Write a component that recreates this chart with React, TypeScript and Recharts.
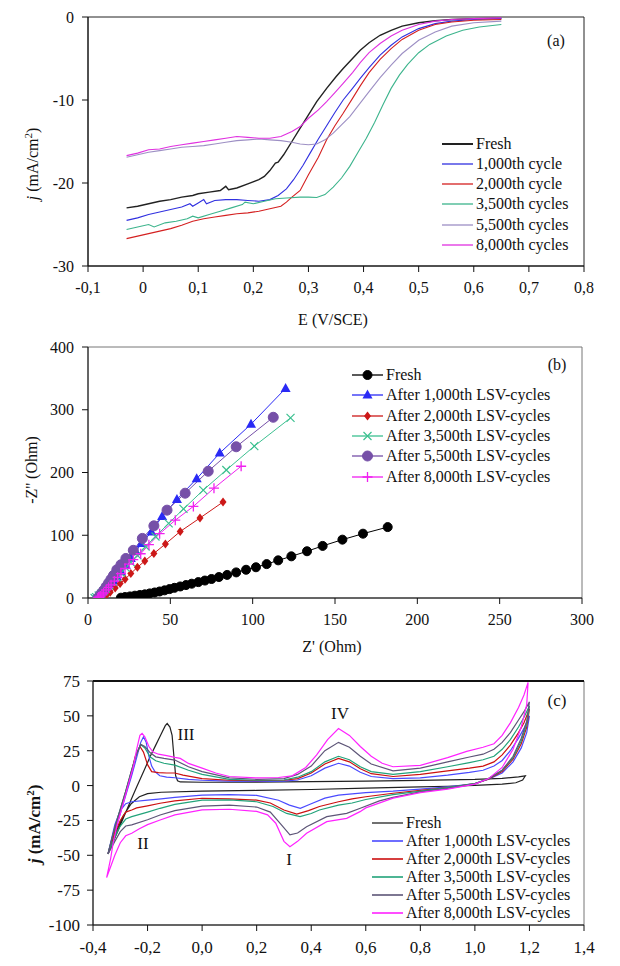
import { LineChart, Line, XAxis, YAxis, ReferenceArea } from "recharts";

const SERIF = '"Liberation Serif", "Times New Roman", Times, "DejaVu Serif", serif';

type Pt = [number, number];

// ---- (a) LSV curves, E (V/SCE) vs j (mA/cm2) ----
const lsvFresh: Pt[] = [
  [-0.03, -23.0], [-0.01, -22.8], [0.01, -22.5], [0.03, -22.2], [0.05, -22.0], [0.07, -21.7],
  [0.09, -21.5], [0.1, -21.3], [0.12, -21.1], [0.14, -20.9], [0.15, -20.4], [0.155, -20.8],
  [0.17, -20.6], [0.19, -20.1], [0.21, -19.6], [0.22, -19.2], [0.23, -18.5], [0.24, -17.6],
  [0.245, -17.5], [0.255, -16.6], [0.27, -15.0], [0.285, -13.4], [0.3, -11.8], [0.315, -10.2],
  [0.333, -8.6], [0.35, -7.2], [0.363, -6.2], [0.38, -5.0], [0.394, -4.0], [0.41, -3.1],
  [0.43, -2.2], [0.45, -1.6], [0.47, -1.1], [0.5, -0.7], [0.53, -0.45], [0.56, -0.3],
  [0.6, -0.2], [0.65, -0.15],
];
const lsv1000: Pt[] = [
  [-0.03, -24.5], [-0.01, -24.2], [0.01, -23.8], [0.03, -23.5], [0.05, -23.2], [0.07, -22.9],
  [0.085, -22.5], [0.09, -22.8], [0.1, -22.4], [0.11, -22.0], [0.115, -22.5], [0.13, -22.1],
  [0.15, -22.0], [0.17, -22.0], [0.19, -22.1], [0.21, -22.2], [0.23, -22.0], [0.245, -21.5],
  [0.26, -20.7], [0.273, -19.6], [0.29, -17.9], [0.303, -16.4], [0.318, -14.7], [0.333, -13.1],
  [0.348, -11.5], [0.363, -10.0], [0.38, -8.6], [0.394, -7.4], [0.41, -6.1], [0.43, -4.6],
  [0.45, -3.4], [0.47, -2.4], [0.5, -1.4], [0.53, -0.8], [0.56, -0.5], [0.6, -0.3], [0.65, -0.2],
];
const lsv2000: Pt[] = [
  [-0.03, -26.7], [-0.01, -26.4], [0.01, -26.1], [0.03, -25.8], [0.05, -25.5], [0.07, -25.1],
  [0.09, -24.6], [0.11, -24.3], [0.13, -24.1], [0.15, -23.9], [0.17, -23.7], [0.19, -23.6],
  [0.21, -23.4], [0.23, -23.1], [0.25, -22.8], [0.26, -22.3], [0.27, -21.7], [0.285, -20.9],
  [0.3, -19.0], [0.318, -16.9], [0.333, -14.8], [0.348, -13.1], [0.363, -11.6], [0.38, -9.8],
  [0.394, -8.3], [0.41, -6.7], [0.43, -5.1], [0.45, -3.8], [0.47, -2.7], [0.5, -1.6],
  [0.53, -0.9], [0.56, -0.6], [0.6, -0.4], [0.65, -0.3],
];
const lsv3500: Pt[] = [
  [-0.03, -25.6], [-0.01, -25.3], [0.01, -25.0], [0.02, -25.3], [0.04, -24.8], [0.06, -24.6],
  [0.08, -24.3], [0.09, -24.0], [0.1, -24.2], [0.12, -23.8], [0.14, -23.4], [0.16, -23.0],
  [0.18, -22.6], [0.185, -22.3], [0.2, -22.5], [0.22, -22.2], [0.24, -21.9], [0.26, -21.8],
  [0.285, -21.7], [0.3, -21.7], [0.315, -21.75], [0.33, -21.4], [0.345, -20.5], [0.36, -19.4],
  [0.375, -18.0], [0.39, -16.3], [0.405, -14.6], [0.42, -12.7], [0.435, -10.6], [0.45, -8.6],
  [0.465, -7.0], [0.48, -5.7], [0.5, -4.3], [0.52, -3.3], [0.55, -2.3], [0.58, -1.6],
  [0.61, -1.2], [0.65, -0.9],
];
const lsv5500: Pt[] = [
  [-0.03, -16.9], [-0.01, -16.6], [0.01, -16.3], [0.03, -16.1], [0.05, -15.9], [0.07, -15.7],
  [0.09, -15.6], [0.11, -15.5], [0.13, -15.3], [0.15, -15.1], [0.17, -14.9], [0.19, -14.8],
  [0.21, -14.7], [0.23, -14.8], [0.25, -14.9], [0.27, -15.1], [0.285, -15.3], [0.3, -15.4],
  [0.315, -15.3], [0.33, -14.8], [0.345, -14.0], [0.36, -13.0], [0.375, -12.0], [0.39, -10.7],
  [0.41, -9.0], [0.43, -7.3], [0.45, -5.8], [0.47, -4.4], [0.5, -2.8], [0.53, -1.8],
  [0.56, -1.1], [0.6, -0.7], [0.65, -0.5],
];
const lsv8000: Pt[] = [
  [-0.03, -16.7], [-0.01, -16.4], [0.01, -16.0], [0.03, -15.9], [0.05, -15.6], [0.07, -15.4],
  [0.09, -15.2], [0.11, -15.0], [0.13, -14.8], [0.15, -14.6], [0.17, -14.4], [0.19, -14.5],
  [0.21, -14.6], [0.23, -14.6], [0.25, -14.4], [0.26, -14.1], [0.27, -13.8], [0.285, -13.2],
  [0.3, -12.2], [0.318, -11.2], [0.333, -10.2], [0.348, -9.1], [0.363, -8.0], [0.38, -6.7],
  [0.394, -5.5], [0.41, -4.3], [0.43, -3.2], [0.45, -2.3], [0.47, -1.6], [0.5, -0.9],
  [0.53, -0.5], [0.56, -0.3], [0.6, -0.2], [0.65, -0.1],
];
const lsvNames = ["Fresh", "1,000th cycle", "2,000th cycle", "3,500th cycles", "5,500th cycles", "8,000th cycles"];
const lsvColors = ["#222222", "#3030e0", "#d42020", "#3cb48c", "#9d8fc4", "#e030e0"];
const lsvXTicks = [-0.1, 0, 0.1, 0.2, 0.3, 0.4, 0.5, 0.6, 0.7, 0.8];
const lsvYTicks = [-30, -20, -10, 0];

// ---- (b) Nyquist plots, Z' vs -Z'' (Ohm) ----
const eisFresh: Pt[] = [
  [20, 0.5], [22.5, 1.5], [25.5, 2.5], [28.5, 3.7], [31.5, 4.8], [34.5, 5.8], [37.5, 7.3],
  [40.5, 8.8], [43.5, 10.4], [46.5, 12.2], [49.5, 14.2], [52.5, 16.2], [56, 18.4], [59.5, 20.6],
  [63, 22.8], [67, 25.3], [71, 27.8], [75, 30.3], [79.5, 33.4], [84.5, 36.8], [90, 40.8],
  [96, 45], [102, 49], [108.5, 54], [115.5, 60], [123.5, 66.4], [133, 74.5], [142.5, 83],
  [154.5, 93], [167, 102.5], [182, 113],
];
const eis1000: Pt[] = [
  [6, 0], [7, 2], [8, 4.5], [9, 7.5], [10.5, 11], [12, 16], [13.5, 21], [15.5, 27], [17.5, 34],
  [20, 42], [23, 52], [26, 63], [29, 74], [32.5, 87], [38.5, 105], [45, 130], [54, 157],
  [66, 190], [80, 231], [99, 277], [120, 334],
];
const eis2000: Pt[] = [
  [8, 0], [9, 1], [11, 4], [13.5, 9], [16.5, 16], [19.5, 23], [22.5, 30], [26, 39], [30, 49],
  [34.5, 59], [40, 71], [47, 86], [56, 106], [68, 127.5], [82, 153],
];
const eis3500: Pt[] = [
  [4, 0], [5, 1.5], [6.5, 4], [8, 7], [9.5, 11], [11, 15], [13, 20], [15, 26], [17.5, 33],
  [20, 40], [23, 48], [26, 57], [30, 68], [35, 82], [41, 98], [49, 119], [58, 142], [70, 172],
  [84, 204], [101, 242], [123, 287],
];
const eis5500: Pt[] = [
  [6, 0], [7, 3], [8, 7], [9.5, 12], [11, 18], [12.5, 24], [14, 30], [15.5, 36], [17.5, 45],
  [20, 53], [23, 63], [27.5, 76], [33, 95], [40, 115], [48, 140], [59, 167], [73, 202],
  [90, 241], [112.5, 288],
];
const eis8000: Pt[] = [
  [6, 0], [6.5, 1.5], [7.5, 3], [8.5, 5], [9.5, 8], [11, 13], [12.5, 17], [14, 21], [16, 27],
  [18, 33], [20, 39], [22.5, 47], [25, 54], [27.5, 61], [32, 70.5], [37, 85], [43.5, 102.5],
  [53, 124], [64, 146], [76.5, 175], [93, 210],
];
const cycleNames = [
  "Fresh",
  "After 1,000th LSV-cycles",
  "After 2,000th LSV-cycles",
  "After 3,500th LSV-cycles",
  "After 5,500th LSV-cycles",
  "After 8,000th LSV-cycles",
];
const eisColors = ["#000000", "#2a2af5", "#cc1818", "#3cc090", "#7650a8", "#f020f0"];
const eisMarkers = ["circle", "triangle", "diamond", "cross", "bigCircle", "plus"];
const eisXTicks = [0, 50, 100, 150, 200, 250, 300];
const eisYTicks = [0, 100, 200, 300, 400];

// ---- (c) CV loops, anodic sweep then cathodic sweep ----
const cvFresh: Pt[] = [
  [-0.345, -49], [-0.3, -28.5], [-0.26, -10], [-0.24, -1], [-0.21, 12], [-0.19, 21], [-0.17, 29],
  [-0.15, 37], [-0.135, 43], [-0.128, 44.5], [-0.118, 42], [-0.11, 36], [-0.103, 20], [-0.097, 7],
  [-0.09, 3.5], [-0.08, 2.6], [0, 2.4], [0.2, 2.5], [0.4, 2.8], [0.6, 3.2], [0.8, 3.7], [1.0, 4.4],
  [1.1, 5.2], [1.16, 6.2], [1.185, 7],
  [1.175, 4.0], [1.15, 2.0], [1.1, 1.0], [1.0, 0.2], [0.9, -0.5], [0.8, -1.0], [0.6, -1.8],
  [0.4, -2.8], [0.2, -3.5], [0, -4.0], [-0.15, -4.8], [-0.2, -5.8], [-0.23, -8], [-0.26, -13],
  [-0.29, -22], [-0.32, -35], [-0.345, -49],
];
const cv1000: Pt[] = [
  [-0.345, -49], [-0.32, -33], [-0.3, -20], [-0.28, -7], [-0.26, 6], [-0.24, 20], [-0.225, 31],
  [-0.215, 35], [-0.205, 31], [-0.195, 21], [-0.185, 14], [-0.173, 10], [-0.155, 7], [-0.13, 6],
  [-0.1, 5.6], [-0.05, 4.5], [0, 3.8], [0.1, 3.2], [0.2, 3], [0.3, 3.2], [0.35, 4], [0.4, 7],
  [0.45, 12.5], [0.5, 16], [0.54, 14], [0.58, 9.5], [0.62, 6.5], [0.7, 5], [0.8, 5.5], [0.9, 7.5],
  [0.98, 9.5], [1.03, 11], [1.07, 14], [1.1, 18], [1.13, 25], [1.16, 34], [1.18, 41], [1.2, 50],
  [1.19, 38], [1.17, 27], [1.14, 17], [1.1, 9], [1.05, 4.5], [1.0, 1.5], [0.9, -1], [0.8, -2.5],
  [0.7, -4], [0.6, -5], [0.5, -6.8], [0.45, -9], [0.4, -13], [0.36, -16.3], [0.32, -14],
  [0.28, -10.5], [0.2, -7], [0.1, -6.5], [0, -6.8], [-0.1, -8.5], [-0.15, -9.5], [-0.2, -10.5],
  [-0.258, -11.6], [-0.28, -13], [-0.3, -18], [-0.32, -28], [-0.345, -49],
];
const cv2000: Pt[] = [
  [-0.345, -49], [-0.32, -31], [-0.3, -18], [-0.28, -5], [-0.26, 9], [-0.245, 21], [-0.228, 28],
  [-0.215, 24], [-0.2, 15], [-0.185, 10], [-0.16, 9.3], [-0.13, 9], [-0.1, 9], [-0.07, 7.5],
  [-0.03, 6], [0, 5], [0.1, 3.8], [0.2, 3.5], [0.3, 3.8], [0.35, 5], [0.4, 9], [0.45, 15.5],
  [0.5, 19.5], [0.54, 17], [0.58, 12], [0.62, 8.5], [0.7, 6.5], [0.8, 8], [0.9, 10.5], [0.98, 12.5],
  [1.03, 14], [1.07, 17], [1.1, 22], [1.13, 29], [1.16, 38], [1.18, 45], [1.2, 55],
  [1.19, 42], [1.17, 30], [1.14, 19], [1.1, 10], [1.05, 4.5], [1.0, 1.5], [0.9, -1.5], [0.8, -3.5],
  [0.7, -5.5], [0.6, -8], [0.55, -9.5], [0.5, -11.6], [0.43, -15], [0.39, -18], [0.347, -20.5],
  [0.3, -17.5], [0.25, -12.5], [0.2, -10.4], [0.1, -9.5], [0, -9.1], [-0.1, -11], [-0.154, -12.7],
  [-0.2, -14.5], [-0.24, -16], [-0.258, -17.5], [-0.28, -19], [-0.3, -25], [-0.32, -34],
  [-0.345, -49],
];
const cv3500: Pt[] = [
  [-0.345, -49], [-0.32, -30], [-0.3, -17], [-0.28, -4], [-0.26, 10], [-0.24, 23], [-0.225, 29.5],
  [-0.21, 27], [-0.19, 20.5], [-0.17, 17.8], [-0.14, 16], [-0.1, 14.7], [-0.05, 11], [0, 8],
  [0.1, 4.5], [0.2, 3.8], [0.3, 4], [0.35, 6], [0.4, 10], [0.45, 17], [0.5, 21], [0.54, 18.5],
  [0.58, 13.5], [0.62, 10], [0.7, 8], [0.8, 10], [0.9, 13.5], [0.98, 16.5], [1.03, 18.5], [1.07, 21],
  [1.1, 26], [1.13, 33], [1.16, 42], [1.18, 49], [1.2, 57],
  [1.19, 44], [1.17, 32], [1.14, 20], [1.1, 11], [1.05, 5], [1.0, 1.5], [0.9, -1.5], [0.8, -4],
  [0.7, -6.5], [0.6, -10], [0.55, -12.5], [0.5, -14], [0.43, -17.5], [0.4, -20], [0.359, -22.3],
  [0.31, -20], [0.26, -15], [0.2, -11.6], [0.1, -10.2], [0, -10.4], [-0.1, -13.5], [-0.154, -16.3],
  [-0.2, -19], [-0.258, -22.3], [-0.28, -24], [-0.3, -29], [-0.32, -37], [-0.345, -49],
];
const cv5500: Pt[] = [
  [-0.345, -49], [-0.32, -30], [-0.3, -17], [-0.28, -4], [-0.26, 10], [-0.24, 23], [-0.225, 29.5],
  [-0.21, 28], [-0.19, 23.5], [-0.17, 20.6], [-0.14, 19.5], [-0.1, 18.3], [-0.05, 13.5], [0, 10],
  [0.1, 5.5], [0.2, 4.5], [0.3, 5], [0.35, 8], [0.4, 14], [0.45, 25], [0.5, 31], [0.54, 27.5],
  [0.58, 21], [0.62, 15.5], [0.7, 10.5], [0.8, 12.5], [0.9, 17], [0.98, 20.5], [1.03, 22.5],
  [1.07, 26], [1.1, 31], [1.13, 38], [1.16, 47], [1.18, 53], [1.2, 60],
  [1.19, 46], [1.17, 34], [1.14, 21], [1.1, 11], [1.05, 5], [1.0, 1], [0.9, -2], [0.8, -4.5],
  [0.7, -8.5], [0.65, -11], [0.58, -16.3], [0.53, -19.9], [0.457, -22.3], [0.383, -29.5],
  [0.35, -34], [0.322, -35.4], [0.29, -28], [0.25, -19], [0.2, -15.4], [0.1, -14], [0, -14.7],
  [-0.1, -18], [-0.154, -21.1], [-0.2, -24.5], [-0.258, -28.2], [-0.28, -29], [-0.3, -33],
  [-0.32, -40], [-0.345, -49],
];
const cv8000: Pt[] = [
  [-0.35, -66], [-0.335, -52], [-0.326, -41], [-0.31, -27], [-0.289, -12.7], [-0.27, 1],
  [-0.252, 13.5], [-0.24, 26], [-0.228, 36], [-0.22, 37.5], [-0.21, 35], [-0.195, 28], [-0.18, 24],
  [-0.16, 22.5], [-0.13, 21.5], [-0.1, 20.2], [-0.08, 19.5], [-0.05, 15.9], [0, 12.5], [0.05, 9],
  [0.1, 6.5], [0.2, 5.5], [0.28, 5.8], [0.33, 7], [0.38, 13], [0.42, 22], [0.46, 33], [0.5, 40.9],
  [0.54, 36], [0.58, 28], [0.62, 21], [0.66, 16], [0.7, 13.5], [0.8, 14.5], [0.9, 20], [0.97, 24.5],
  [1.03, 27.5], [1.07, 30], [1.1, 36], [1.13, 45], [1.16, 56], [1.18, 65], [1.195, 74],
  [1.19, 58], [1.17, 42], [1.14, 26], [1.1, 13], [1.05, 5], [1.0, 1], [0.9, -2.5], [0.8, -5],
  [0.7, -9], [0.6, -16], [0.579, -18.7], [0.53, -23.5], [0.457, -25.9], [0.383, -34.2], [0.35, -40],
  [0.322, -43.8], [0.3, -40], [0.27, -27], [0.24, -21], [0.2, -18.5], [0.1, -17], [0, -17.5],
  [-0.1, -21], [-0.154, -24.7], [-0.2, -28], [-0.23, -31], [-0.258, -34.2], [-0.28, -36],
  [-0.3, -41], [-0.32, -50], [-0.335, -58], [-0.35, -66],
];
const cvColors = ["#222222", "#4a4aff", "#cc1010", "#22a37a", "#5d5577", "#ff22ff"];
const cvXTicks = [-0.4, -0.2, 0, 0.2, 0.4, 0.6, 0.8, 1.0, 1.2, 1.4];
const cvYTicks = [-100, -75, -50, -25, 0, 25, 50, 75];

const lsvData = [lsvFresh, lsv1000, lsv2000, lsv3500, lsv5500, lsv8000];
const eisData = [eisFresh, eis1000, eis2000, eis3500, eis5500, eis8000];
const cvData = [cvFresh, cv1000, cv2000, cv3500, cv5500, cv8000];

const pts = (arr: Pt[]) => arr.map(([x, y]) => ({ x, y }));
const commaA = (v: number) => (v === 0 ? "0" : v.toFixed(1).replace(".", ","));
const commaC = (v: number) => v.toFixed(1).replace(".", ",");

const tickStyle = { fontSize: 16, fill: "#111", fontFamily: SERIF };
const axisStroke = { stroke: "#111" };

function drawMarker(kind: string, cx: number, cy: number, color: string, key?: string | number) {
  switch (kind) {
    case "circle":
      return <circle key={key} cx={cx} cy={cy} r={4.5} fill={color} stroke={color} />;
    case "bigCircle":
      return <circle key={key} cx={cx} cy={cy} r={5} fill={color} stroke={color} />;
    case "triangle":
      return (
        <path key={key} d={`M${cx},${cy - 5.5}L${cx + 5},${cy + 3.5}L${cx - 5},${cy + 3.5}Z`} fill={color} />
      );
    case "diamond":
      return (
        <path key={key} d={`M${cx},${cy - 4.5}L${cx + 3.5},${cy}L${cx},${cy + 4.5}L${cx - 3.5},${cy}Z`} fill={color} />
      );
    case "cross":
      return (
        <path key={key} d={`M${cx - 4},${cy - 4}L${cx + 4},${cy + 4}M${cx - 4},${cy + 4}L${cx + 4},${cy - 4}`} stroke={color} strokeWidth={1.2} />
      );
    default:
      return (
        <path key={key} d={`M${cx - 5},${cy}L${cx + 5},${cy}M${cx},${cy - 5}L${cx},${cy + 5}`} stroke={color} strokeWidth={1.3} />
      );
  }
}

function Note({ x, y, size = 16, bold = false, children }: any) {
  return (
    <div
      style={{
        position: "absolute",
        left: x,
        top: y,
        transform: "translate(-50%, -50%)",
        whiteSpace: "nowrap",
        fontSize: size,
        fontWeight: bold ? "bold" : "normal",
        lineHeight: 1,
      }}
    >
      {children}
    </div>
  );
}

function VLabel({ x, y, size = 16, bold = false, children }: any) {
  return (
    <div
      style={{
        position: "absolute",
        left: x,
        top: y,
        transform: "translate(-50%, -50%) rotate(-90deg)",
        whiteSpace: "nowrap",
        fontSize: size,
        fontWeight: bold ? "bold" : "normal",
        lineHeight: 1,
      }}
    >
      {children}
    </div>
  );
}

function LegendBlock({ left, top, gap, names, colors, widths, markers }: any) {
  return (
    <>
      {names.map((name: string, i: number) => (
        <div
          key={name}
          style={{
            position: "absolute",
            left,
            top: top + i * gap - 10,
            height: 20,
            display: "flex",
            alignItems: "center",
            whiteSpace: "nowrap",
            fontSize: 16,
            lineHeight: "20px",
          }}
        >
          <svg width={31} height={20} style={{ marginRight: 3 }}>
            <line x1={0} y1={10} x2={31} y2={10} stroke={colors[i]} strokeWidth={widths[i]} />
            {markers && drawMarker(markers[i], 15.5, 10, colors[i])}
          </svg>
          <span>{name}</span>
        </div>
      ))}
    </>
  );
}

function PanelA() {
  return (
    <div style={{ position: "absolute", left: 0, top: 0 }}>
      <LineChart width={620} height={320} margin={{ top: 17, right: 36, bottom: 4, left: 0 }}>
        <XAxis
          type="number"
          dataKey="x"
          domain={[-0.1, 0.8]}
          ticks={lsvXTicks}
          interval={0}
          tickFormatter={commaA}
          tick={tickStyle}
          tickLine={axisStroke}
          axisLine={axisStroke}
          tickMargin={10}
          height={50}
          allowDataOverflow
        />
        <YAxis
          type="number"
          domain={[-30, 0]}
          ticks={lsvYTicks}
          interval={0}
          tick={tickStyle}
          tickLine={axisStroke}
          axisLine={axisStroke}
          tickMargin={8}
          width={88}
          allowDataOverflow
        />
        <ReferenceArea x1={-0.1} x2={0.8} y1={-30} y2={0} fill="none" stroke="#222" strokeWidth={1} />
        {lsvData.map((d, i) => (
          <Line
            key={lsvNames[i]}
            data={pts(d)}
            dataKey="y"
            type="linear"
            stroke={lsvColors[i]}
            strokeWidth={i === 0 ? 1.4 : 1.1}
            dot={false}
            activeDot={false}
            isAnimationActive={false}
          />
        ))}
      </LineChart>
    </div>
  );
}

function PanelB() {
  return (
    <div style={{ position: "absolute", left: 0, top: 320 }}>
      <LineChart width={620} height={340} margin={{ top: 27, right: 38, bottom: 12, left: 0 }}>
        <XAxis
          type="number"
          dataKey="x"
          domain={[0, 300]}
          ticks={eisXTicks}
          interval={0}
          tick={tickStyle}
          tickLine={axisStroke}
          axisLine={axisStroke}
          tickMargin={10}
          height={50}
          allowDataOverflow
        />
        <YAxis
          type="number"
          domain={[0, 400]}
          ticks={eisYTicks}
          interval={0}
          tick={tickStyle}
          tickLine={axisStroke}
          axisLine={axisStroke}
          tickMargin={8}
          width={88}
          allowDataOverflow
        />
        <ReferenceArea x1={0} x2={300} y1={0} y2={400} fill="none" stroke="#777" strokeWidth={1} />
        {eisData.map((d, i) => (
          <Line
            key={cycleNames[i]}
            data={pts(d)}
            dataKey="y"
            type="linear"
            stroke={eisColors[i]}
            strokeWidth={1}
            dot={(p: any) => drawMarker(eisMarkers[i], p.cx, p.cy, eisColors[i], `m${i}-${p.index}`)}
            activeDot={false}
            isAnimationActive={false}
          />
        ))}
      </LineChart>
    </div>
  );
}

function PanelC() {
  return (
    <div style={{ position: "absolute", left: 0, top: 660 }}>
      <LineChart width={620} height={306} margin={{ top: 21, right: 36, bottom: 6, left: 0 }}>
        <XAxis
          type="number"
          dataKey="x"
          domain={[-0.4, 1.4]}
          ticks={cvXTicks}
          interval={0}
          tickFormatter={commaC}
          tick={{ ...tickStyle, fontSize: 17 }}
          tickLine={axisStroke}
          axisLine={axisStroke}
          tickMargin={10}
          height={35}
          allowDataOverflow
        />
        <YAxis
          type="number"
          domain={[-100, 75]}
          ticks={cvYTicks}
          interval={0}
          tick={{ ...tickStyle, fontSize: 17 }}
          tickLine={axisStroke}
          axisLine={axisStroke}
          tickMargin={7}
          width={93}
          allowDataOverflow
        />
        <ReferenceArea x1={-0.4} x2={1.4} y1={-100} y2={75} fill="none" stroke="#777" strokeWidth={1} />
        {cvData.map((d, i) => (
          <Line
            key={cycleNames[i]}
            data={pts(d)}
            dataKey="y"
            type="linear"
            stroke={cvColors[i]}
            strokeWidth={1.2}
            dot={false}
            activeDot={false}
            isAnimationActive={false}
          />
        ))}
      </LineChart>
    </div>
  );
}

export default function App() {
  return (
    <div
      style={{
        position: "absolute",
        left: 0,
        top: 0,
        width: 620,
        height: 966,
        background: "#fff",
        fontFamily: SERIF,
        color: "#111",
        overflow: "hidden",
      }}
    >
      <PanelA />
      <PanelB />
      <PanelC />
      {/* thick top frame line of panel (c) */}
      <div style={{ position: "absolute", left: 93, top: 680, width: 491, height: 2, background: "#111" }} />

      <Note x={556} y={41}>(a)</Note>
      <VLabel x={32} y={164}>
        <i>j</i> (mA/cm<sup style={{ fontSize: 11 }}>2</sup>)
      </VLabel>
      <Note x={333} y={320}>E (V/SCE)</Note>
      <LegendBlock
        left={442}
        top={143.5}
        gap={20.3}
        names={lsvNames}
        colors={lsvColors}
        widths={[2, 1.3, 1.3, 1.3, 1.3, 1.3]}
      />

      <Note x={557} y={365}>(b)</Note>
      <VLabel x={32} y={470}>-Z'' (Ohm)</VLabel>
      <Note x={332} y={647}>Z' (Ohm)</Note>
      <LegendBlock
        left={352}
        top={375}
        gap={20.3}
        names={cycleNames}
        colors={eisColors}
        widths={[1.3, 1.3, 1.3, 1.3, 1.3, 1.3]}
        markers={eisMarkers}
      />

      <Note x={557} y={700} size={17}>(c)</Note>
      <Note x={186} y={734} size={17}>III</Note>
      <Note x={143} y={843} size={17}>II</Note>
      <Note x={289} y={859} size={17}>I</Note>
      <Note x={340} y={713} size={17}>IV</Note>
      <VLabel x={34} y={824} size={17} bold>
        <i>j</i> (mA/cm<sup style={{ fontSize: 11 }}>2</sup>)
      </VLabel>
      <LegendBlock
        left={372}
        top={822.5}
        gap={18.1}
        names={cycleNames}
        colors={cvColors}
        widths={[1.3, 1.6, 1.6, 1.6, 1.6, 1.6]}
      />
    </div>
  );
}
